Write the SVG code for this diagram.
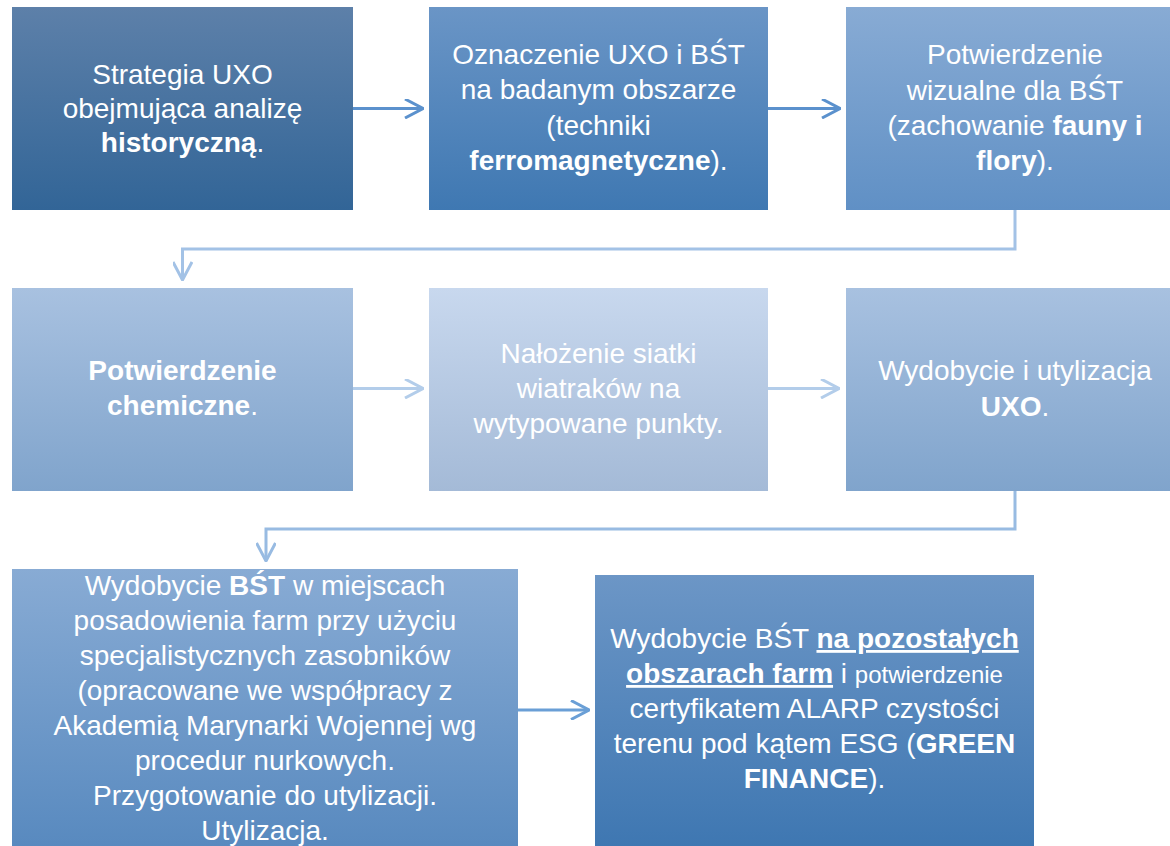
<svg xmlns="http://www.w3.org/2000/svg" width="1170" height="846" viewBox="0 0 1170 846">
<defs>
<style>
text{font-family:"Liberation Sans",Arial,sans-serif;font-size:28px;fill:#ffffff;text-anchor:middle}
.b{font-weight:700}
.u{text-decoration:underline}
.sm{font-size:24px}
.c{fill:none;stroke-width:3}
</style>
<linearGradient id="g1" x1="0" y1="0" x2="0" y2="1"><stop offset="0" stop-color="#5d80a9"/><stop offset="1" stop-color="#326597"/></linearGradient>
<linearGradient id="g2" x1="0" y1="0" x2="0" y2="1"><stop offset="0" stop-color="#6a95c6"/><stop offset="1" stop-color="#3f78b2"/></linearGradient>
<linearGradient id="g3" x1="0" y1="0" x2="0" y2="1"><stop offset="0" stop-color="#88abd4"/><stop offset="1" stop-color="#6090c5"/></linearGradient>
<linearGradient id="g4" x1="0" y1="0" x2="0" y2="1"><stop offset="0" stop-color="#a8c1e0"/><stop offset="1" stop-color="#80a4cc"/></linearGradient>
<linearGradient id="g5" x1="0" y1="0" x2="0" y2="1"><stop offset="0" stop-color="#c8d8ee"/><stop offset="1" stop-color="#a4bad7"/></linearGradient>
<linearGradient id="g7" x1="0" y1="0" x2="0" y2="1"><stop offset="0" stop-color="#88abd4"/><stop offset="1" stop-color="#5688be"/></linearGradient>
<linearGradient id="g8" x1="0" y1="0" x2="0" y2="1"><stop offset="0" stop-color="#6c96c6"/><stop offset="1" stop-color="#3d76b1"/></linearGradient>
<marker id="m1" viewBox="0 0 20 20" refX="19" refY="10" markerWidth="20" markerHeight="20" markerUnits="userSpaceOnUse" orient="auto"><path d="M1 0.5 L19 10 L1 19.5" fill="none" stroke="#5b91cd" stroke-width="3"/></marker>
<marker id="m2" viewBox="0 0 20 20" refX="19" refY="10" markerWidth="20" markerHeight="20" markerUnits="userSpaceOnUse" orient="auto"><path d="M1 0.5 L19 10 L1 19.5" fill="none" stroke="#a3c2e6" stroke-width="3"/></marker>
<marker id="m3" viewBox="0 0 20 20" refX="19" refY="10" markerWidth="20" markerHeight="20" markerUnits="userSpaceOnUse" orient="auto"><path d="M1 0.5 L19 10 L1 19.5" fill="none" stroke="#b3cdea" stroke-width="3"/></marker>
<marker id="m4" viewBox="0 0 20 20" refX="19" refY="10" markerWidth="20" markerHeight="20" markerUnits="userSpaceOnUse" orient="auto"><path d="M1 0.5 L19 10 L1 19.5" fill="none" stroke="#98bbe2" stroke-width="3"/></marker>
<marker id="m5" viewBox="0 0 20 20" refX="19" refY="10" markerWidth="20" markerHeight="20" markerUnits="userSpaceOnUse" orient="auto"><path d="M1 0.5 L19 10 L1 19.5" fill="none" stroke="#6a9fd6" stroke-width="3"/></marker>
</defs>
<rect width="1170" height="846" fill="#ffffff"/>
<g id="connectors">
<path class="c" d="M353 108.5 H423" stroke="#5b91cd" marker-end="url(#m1)"/>
<path class="c" d="M768 108.5 H840" stroke="#5b91cd" marker-end="url(#m1)"/>
<path class="c" d="M1015 210 V249 H182.5 V280" stroke="#a3c2e6" marker-end="url(#m2)"/>
<path class="c" d="M353 388.5 H423" stroke="#b3cdea" marker-end="url(#m3)"/>
<path class="c" d="M768 388.5 H839" stroke="#b3cdea" marker-end="url(#m3)"/>
<path class="c" d="M1015 491 V529 H266 V561" stroke="#98bbe2" marker-end="url(#m4)"/>
<path class="c" d="M518 710 H589" stroke="#6a9fd6" marker-end="url(#m5)"/>
</g>
<g id="n1">
<rect x="12" y="7" width="341" height="203" fill="url(#g1)"/>
<text x="182.5" y="84">Strategia UXO</text>
<text x="182.5" y="118">obejmująca analizę</text>
<text x="182.5" y="152"><tspan class="b">historyczną</tspan>.</text>
</g>
<g id="n2">
<rect x="429" y="7" width="339" height="203" fill="url(#g2)"/>
<text x="598.5" y="64">Oznaczenie UXO i BŚT</text>
<text x="598.5" y="99">na badanym obszarze</text>
<text x="598.5" y="135">(techniki</text>
<text x="598.5" y="170"><tspan class="b">ferromagnetyczne</tspan>).</text>
</g>
<g id="n3">
<rect x="846" y="7" width="338" height="203" fill="url(#g3)"/>
<text x="1015" y="64">Potwierdzenie</text>
<text x="1015" y="100">wizualne dla BŚT</text>
<text x="1015" y="135">(zachowanie <tspan class="b">fauny i</tspan></text>
<text x="1015" y="170"><tspan class="b">flory</tspan>).</text>
</g>
<g id="n4">
<rect x="12" y="288" width="341" height="203" fill="url(#g4)"/>
<text x="182.5" y="380" class="b">Potwierdzenie</text>
<text x="182.5" y="415"><tspan class="b">chemiczne</tspan>.</text>
</g>
<g id="n5">
<rect x="429" y="288" width="339" height="203" fill="url(#g5)"/>
<text x="598.5" y="363">Nałożenie siatki</text>
<text x="598.5" y="398">wiatraków na</text>
<text x="598.5" y="433">wytypowane punkty.</text>
</g>
<g id="n6">
<rect x="846" y="288" width="338" height="203" fill="url(#g4)"/>
<text x="1015" y="380">Wydobycie i utylizacja</text>
<text x="1015" y="416"><tspan class="b">UXO</tspan>.</text>
</g>
<g id="n7">
<rect x="12" y="569" width="506" height="290" fill="url(#g7)"/>
<text x="265" y="595">Wydobycie <tspan class="b">BŚT</tspan> w miejscach</text>
<text x="265" y="630">posadowienia farm przy użyciu</text>
<text x="265" y="665">specjalistycznych zasobników</text>
<text x="265" y="700">(opracowane we współpracy z</text>
<text x="265" y="735">Akademią Marynarki Wojennej wg</text>
<text x="265" y="770">procedur nurkowych.</text>
<text x="265" y="805">Przygotowanie do utylizacji.</text>
<text x="265" y="840">Utylizacja.</text>
</g>
<g id="n8">
<rect x="595" y="575" width="439" height="280" fill="url(#g8)"/>
<text x="814.5" y="648">Wydobycie BŚT <tspan class="b u">na pozostałych</tspan></text>
<text x="814.5" y="683"><tspan class="b u">obszarach farm</tspan> i <tspan class="sm">potwierdzenie</tspan></text>
<text x="814.5" y="718">certyfikatem ALARP czystości</text>
<text x="814.5" y="753">terenu pod kątem ESG (<tspan class="b">GREEN</tspan></text>
<text x="814.5" y="788"><tspan class="b">FINANCE</tspan>).</text>
</g>
</svg>
